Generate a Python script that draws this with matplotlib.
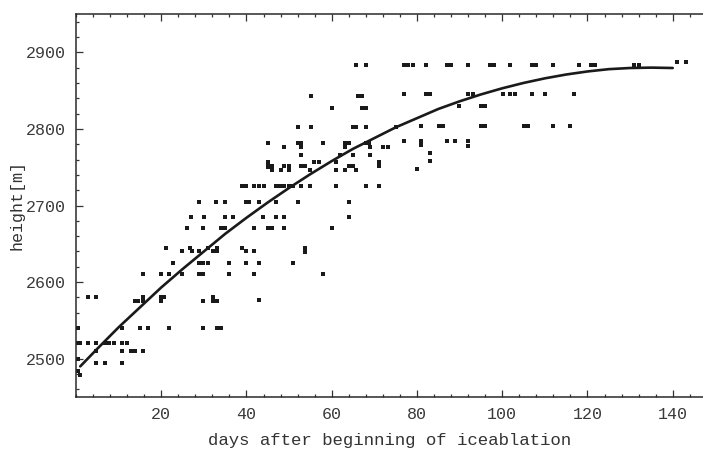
import matplotlib
matplotlib.use("Agg")
import matplotlib.pyplot as plt
from matplotlib.ticker import MultipleLocator

# ---- scatter observations: (day, height) grouped by height rows ----
days = [
    # ~2478-2500 near start
    0.4, 1.0, 0.4,
    # 2495 row
    4.8, 6.8, 10.9,
    # 2510 row
    4.8, 10.9, 12.8, 13.8, 15.8,
    # 2520 row
    0.3, 0.9, 2.9, 4.8, 6.8, 7.8, 8.9, 10.9, 11.9,
    # 2540 row
    0.5, 10.9, 14.9, 17.0, 21.9, 29.9, 33.0, 34.0,
    # 2575-2580
    2.9, 4.8, 13.8, 14.6, 15.8, 15.8, 19.9, 19.9, 20.7, 29.9, 32.1, 32.1, 33.0, 42.9,
    # 2610 row
    15.8, 19.9, 21.9, 24.9, 28.9, 29.9, 36.0, 41.8, 57.9,
    # 2625 row
    22.8, 28.9, 29.9, 30.9, 36.0, 39.9, 42.9, 51.0,
    # 2640-2645
    21.0, 24.9, 26.8, 27.2, 28.9, 30.9, 32.1, 33.0, 33.0, 38.9, 39.9, 41.8, 53.8, 53.8,
    # 2670 row
    26.0, 29.9, 34.0, 35.0, 41.8, 45.0, 46.0, 48.9, 60.1,
    # 2685 row
    27.0, 30.1, 35.0, 36.9, 43.8, 46.9, 48.9, 64.0,
    # 2705 row
    28.9, 32.8, 35.0, 39.9, 40.7, 42.9, 46.9, 52.0, 64.0,
    # 2725 row
    38.9, 39.9, 41.8, 42.9, 44.0, 46.9, 47.9, 48.9, 49.9, 51.0, 52.9, 54.9, 61.0, 68.0, 71.0,
    # 2746-2757
    45.0, 45.0, 45.7, 46.0, 48.9, 49.9, 52.9, 53.8, 64.0, 64.9, 71.0,
    46.0, 48.1, 49.9, 54.9, 61.0, 63.0, 65.8,
    45.0, 55.9, 56.9, 61.0, 71.0,
    # 2766 row
    52.9, 61.9, 64.9, 69.0,
    # 2777 row
    48.9, 52.9, 63.0, 69.0, 72.1, 73.1,
    # 2782 row
    45.0, 52.0, 52.9, 58.0, 63.0, 64.0, 68.0, 68.7,
    # 2802 row
    52.0, 55.1, 64.9, 65.8, 68.0, 75.1,
    # 2827 row
    60.1, 67.1, 68.0,
    # 2843 row
    55.1, 66.1, 67.1,
    # 2884 row
    65.8, 68.0,
    # later season
    77.0, 78.0, 79.0, 82.1, 87.0, 88.0, 92.0, 97.1, 98.1, 101.8, 107.0, 107.9,
    111.8, 117.9, 120.8, 121.8, 131.0, 132.0, 140.9, 143.0,
    77.0, 82.1, 83.1, 92.0, 93.1, 100.1, 101.9, 102.9, 107.0, 110.0, 116.9,
    89.9, 95.0, 96.0,
    80.9, 85.1, 86.0, 95.0, 96.0, 105.0, 106.0, 111.8, 115.9,
    77.0, 80.9, 87.0, 88.9, 92.0,
    80.9, 92.0,
    83.1, 83.1, 79.9,
]

heights = [
    2500, 2479, 2484,
    2495, 2495, 2495,
    2510, 2510, 2510, 2510, 2510,
    2520, 2520, 2520, 2520, 2520, 2520, 2520, 2520, 2520,
    2540, 2540, 2540, 2540, 2540, 2540, 2540, 2540,
    2580, 2580, 2575, 2575, 2575, 2580, 2575, 2580, 2580, 2575, 2575, 2580, 2575, 2577,
    2610, 2610, 2610, 2610, 2610, 2610, 2610, 2610, 2610,
    2625, 2625, 2625, 2625, 2625, 2625, 2625, 2625,
    2645, 2640, 2645, 2640, 2640, 2645, 2640, 2645, 2640, 2645, 2640, 2640, 2644, 2639,
    2670, 2670, 2670, 2670, 2670, 2670, 2670, 2670, 2670,
    2685, 2685, 2685, 2685, 2685, 2685, 2685, 2685,
    2705, 2705, 2705, 2705, 2705, 2705, 2705, 2705, 2705,
    2725, 2725, 2725, 2725, 2725, 2725, 2725, 2725, 2725, 2725, 2725, 2725, 2725, 2725, 2725,
    2755, 2750, 2750, 2751, 2751, 2751, 2751, 2751, 2751, 2751, 2751,
    2746, 2746, 2746, 2746, 2746, 2746, 2746,
    2757, 2757, 2757, 2757, 2757,
    2766, 2766, 2766, 2766,
    2777, 2777, 2777, 2777, 2777, 2777,
    2782, 2782, 2782, 2782, 2782, 2782, 2782, 2782,
    2802, 2802, 2802, 2802, 2802, 2802,
    2827, 2827, 2827,
    2843, 2843, 2843,
    2884, 2884,
    2884, 2884, 2884, 2884, 2884, 2884, 2884, 2884, 2884, 2884, 2884, 2884,
    2884, 2884, 2884, 2884, 2884, 2884, 2887, 2887,
    2845, 2845, 2845, 2845, 2845, 2845, 2845, 2845, 2845, 2845, 2845,
    2830, 2830, 2830,
    2804, 2804, 2804, 2804, 2804, 2804, 2804, 2804, 2804,
    2784, 2784, 2784, 2784, 2784,
    2779, 2778,
    2768, 2758, 2748,
]

# ---- fitted curve ----
curve_days = [1, 5, 10, 15, 20, 25, 30, 35, 40, 45, 50, 55, 60, 65, 70, 75,
              80, 85, 90, 95, 100, 105, 110, 115, 120, 125, 130, 135, 140]
curve_heights = [2490, 2513, 2541, 2567, 2593, 2617, 2640, 2663, 2684, 2704,
                 2723, 2741, 2758, 2774, 2788, 2802, 2814, 2826, 2836, 2845,
                 2853, 2860, 2866, 2871, 2875, 2878, 2879.5, 2880, 2879.5]

x_ticks = [20, 40, 60, 80, 100, 120, 140]
y_ticks = [2500, 2600, 2700, 2800, 2900]

FONT = "Liberation Mono"
INK = "#1a1a1a"

fig = plt.figure(figsize=(7.03, 4.54), dpi=100)
ax = fig.add_axes([76 / 703, 57 / 454, 627 / 703, 383 / 454])

ax.plot(days, heights, linestyle="none", marker="s", ms=2.2,
        color=INK, markeredgewidth=0)
ax.plot(curve_days, curve_heights, color=INK, lw=1.9, solid_capstyle="round")

ax.set_xlim(0, 147.1)
ax.set_ylim(2450, 2950)
ax.set_xticks(x_ticks)
ax.set_yticks(y_ticks)
ax.xaxis.set_minor_locator(MultipleLocator(4))
ax.yaxis.set_minor_locator(MultipleLocator(20))

ax.tick_params(which="both", direction="in", top=True, right=False,
               color="#333333", width=0.9)
ax.tick_params(which="major", length=5, labelsize=12, pad=7,
               labelcolor="#3a3a3a")
ax.tick_params(which="minor", length=2.5)
for lab in ax.get_xticklabels() + ax.get_yticklabels():
    lab.set_fontfamily(FONT)

for side in ("left", "bottom", "top"):
    ax.spines[side].set_linewidth(1.1)
    ax.spines[side].set_color("#2a2a2a")
ax.spines["right"].set_visible(False)

ax.set_xlabel("days after beginning of iceablation", fontfamily=FONT,
              fontsize=12.5, color="#333333", labelpad=8)
ax.set_ylabel("height[m]", fontfamily=FONT, fontsize=12,
              color="#333333", labelpad=1)

fig.savefig("out.png", dpi=100, facecolor="white")
